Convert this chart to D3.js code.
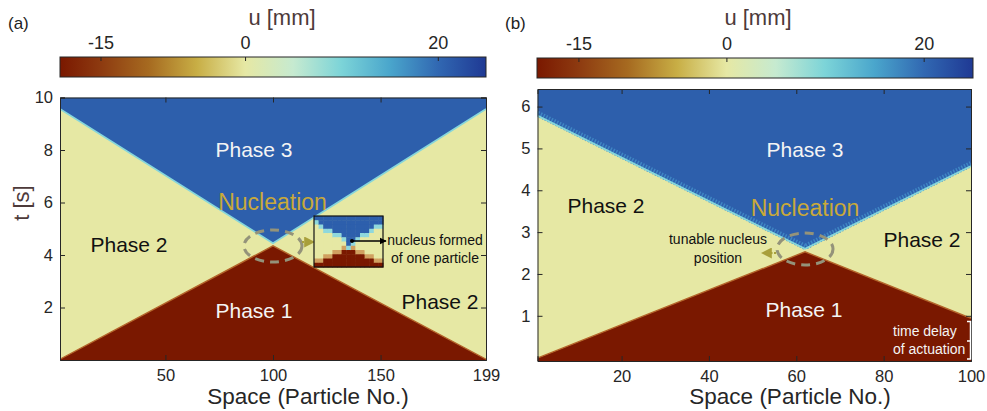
<!DOCTYPE html>
<html><head><meta charset="utf-8">
<script src="https://cdn.jsdelivr.net/npm/d3@7"></script>
<style>body{margin:0;background:#fff}svg{display:block;font-family:"Liberation Sans",Arial,sans-serif}</style>
</head><body><svg id="c" width="987" height="411"></svg>
<script>
// ---------- data ----------
const cbDomain = [-19.2, 25];
const cbTicks = [-15, 0, 20];
const cmapU = [-19.2, -15, -10, -5, 0, 5, 10, 15, 20, 25];
const cmapColors = ["#7a1800","#8d3a10","#a66a20","#c8ae45","#e6e8a4","#c6ead0","#7cd4d8","#4aa6cc","#3168b2","#1f3994"];
const phaseNames = ["Phase 1","Phase 2","Phase 3"];
const phaseU = [-19.2, 0, 21];

const leftX = [1, 100, 199];
const leftBlueT = [9.56, 4.45, 9.56];
const leftRedT = [0.03, 4.35, 0.03];
const leftXTicks = [50, 100, 150, 199];
const leftYTicks = [2, 4, 6, 8, 10];

const rightX = [1, 62, 100];
const rightBlueT = [5.77, 2.6, 4.58];
const rightRedT = [0, 2.53, 0.94];
const rightXTicks = [20, 40, 60, 80, 100];
const rightYTicks = [1, 2, 3, 4, 5, 6];

// inset (zoom on nucleus, left panel): rows of blue from top / red from bottom per column
const insetBlueDepth = [1, 2, 3, 3, 4, 4, 5, 7, 6, 5, 4, 4, 3, 2, 2];
const insetRedHeight = [1, 1, 2, 2, 3, 3, 4, 4, 4, 3, 3, 2, 2, 1, 1];
const insetRows = 12;

// ---------- setup ----------
const svg = d3.select("#c");
const color = d3.scaleLinear().domain(cmapU).range(cmapColors).interpolate(d3.interpolateRgb);
const defs = svg.append("defs");
const font = "'Liberation Sans', Arial, sans-serif";
const axisCol = "#262626";
const plain = d => String(d);

function colorbar(id, x0, x1, y0, y1, labelX) {
  const cb = d3.scaleLinear().domain(cbDomain).range([x0, x1]);
  const g = defs.append("linearGradient").attr("id", id).attr("x1", "0%").attr("x2", "100%");
  cmapU.forEach((u, i) => g.append("stop")
    .attr("offset", ((u - cbDomain[0]) / (cbDomain[1] - cbDomain[0]) * 100) + "%")
    .attr("stop-color", cmapColors[i]));
  svg.append("rect").attr("x", x0).attr("y", y0).attr("width", x1 - x0).attr("height", y1 - y0)
    .attr("fill", `url(#${id})`).attr("stroke", axisCol).attr("stroke-width", 1);
  const ax = svg.append("g").attr("transform", `translate(0,${y0})`)
    .call(d3.axisTop(cb).tickValues(cbTicks).tickFormat(plain).tickSize(-4).tickPadding(8).tickSizeOuter(0));
  ax.select(".domain").remove();
  ax.selectAll("line").attr("stroke", axisCol);
  ax.selectAll("text").attr("font-size", 18).attr("fill", axisCol).attr("font-family", font);
  svg.append("text").attr("x", labelX).attr("y", 25).attr("text-anchor", "middle")
    .attr("font-size", 22).attr("fill", "#4d3a3a").text("u [mm]");
}

function panel(opts) {
  const {id, xd, yd, xr, yr, X, blueT, redT, xTicks, yTicks} = opts;
  const x = d3.scaleLinear().domain(xd).range(xr);
  const y = d3.scaleLinear().domain(yd).range(yr);
  defs.append("clipPath").attr("id", "clip" + id).append("rect")
    .attr("x", xr[0]).attr("y", yr[1]).attr("width", xr[1] - xr[0]).attr("height", yr[0] - yr[1]);
  const g = svg.append("g").attr("clip-path", `url(#clip${id})`);
  g.append("rect").attr("x", xr[0]).attr("y", yr[1]).attr("width", xr[1] - xr[0]).attr("height", yr[0] - yr[1])
    .attr("fill", color(phaseU[1]));
  const pts = (T) => X.map((v, i) => [v, T[i]]);
  const ext = (arr) => [[xd[0], arr[0][1]], ...arr, [xd[1], arr[arr.length - 1][1]]];
  g.append("path").datum(ext(pts(blueT)))
    .attr("d", d3.area().x(d => x(d[0])).y0(y(yd[1])).y1(d => y(d[1])))
    .attr("fill", color(phaseU[2]));
  g.append("path").datum(ext(pts(redT)))
    .attr("d", d3.area().x(d => x(d[0])).y0(y(yd[0])).y1(d => y(d[1])))
    .attr("fill", color(phaseU[0]));
  const line = d3.line().x(d => x(d[0])).y(d => y(d[1]));
  if (opts.stripes) {
    g.append("path").datum(ext(pts(blueT))).attr("d", line).attr("fill", "none")
      .attr("stroke", "#3f86c4").attr("stroke-width", 6).attr("transform", "translate(0,-2)")
      .attr("stroke-dasharray", "1.5,1.5");
  }
  g.append("path").datum(ext(pts(blueT))).attr("d", line).attr("fill", "none")
    .attr("stroke", "#86d6da").attr("stroke-width", 1.8);
  g.append("path").datum(ext(pts(redT))).attr("d", line).attr("fill", "none")
    .attr("stroke", "#b4652a").attr("stroke-width", 1.4);

  const mk = (ax) => ax.tickSizeOuter(0).tickSize(-5);
  const bx = svg.append("g").attr("transform", `translate(0,${yr[0]})`)
    .call(mk(d3.axisBottom(x).tickValues(xTicks)).tickFormat(plain).tickPadding(9));
  const ly = svg.append("g").attr("transform", `translate(${xr[0]},0)`)
    .call(mk(d3.axisLeft(y).tickValues(yTicks)).tickFormat(plain).tickPadding(7));
  const tx = svg.append("g").attr("transform", `translate(0,${yr[1]})`)
    .call(mk(d3.axisTop(x).tickValues(xTicks)).tickFormat(""));
  const ry = svg.append("g").attr("transform", `translate(${xr[1]},0)`)
    .call(mk(d3.axisRight(y).tickValues(yTicks)).tickFormat(""));
  [bx, ly, tx, ry].forEach(a => {
    a.selectAll("line").attr("stroke", axisCol);
    a.select(".domain").attr("stroke", axisCol);
    a.selectAll("text").attr("font-size", 16.5).attr("fill", axisCol).attr("font-family", font);
  });
  return {x, y};
}

function txt(x, y, s, size, fill, anchor = "middle") {
  return svg.append("text").attr("x", x).attr("y", y).attr("text-anchor", anchor)
    .attr("font-size", size).attr("fill", fill).text(s);
}

defs.append("marker").attr("id", "arrOl").attr("viewBox", "0 0 10 10").attr("refX", 8).attr("refY", 5)
  .attr("markerWidth", 5).attr("markerHeight", 5).attr("orient", "auto-start-reverse")
  .append("path").attr("d", "M0,0L10,5L0,10z").attr("fill", "#a89f3a");
defs.append("marker").attr("id", "arrBk").attr("viewBox", "0 0 10 10").attr("refX", 9).attr("refY", 5)
  .attr("markerWidth", 4.5).attr("markerHeight", 4.5).attr("orient", "auto")
  .append("path").attr("d", "M0,0L10,5L0,10z").attr("fill", "#000");

// ---------- panel (a) ----------
colorbar("cbA", 60, 486, 57, 77, 282);
const A = panel({id: "A", xd: [1, 199], yd: [0, 10], xr: [60, 486], yr: [360, 97.5],
  X: leftX, blueT: leftBlueT, redT: leftRedT, xTicks: leftXTicks, yTicks: leftYTicks});
txt(8, 29, "(a)", 17, "#222", "start");
svg.append("text").attr("transform", "translate(29,203) rotate(-90)").attr("text-anchor", "middle")
  .attr("font-size", 22).attr("fill", "#4d3a3a").text("t [s]");
txt(308, 404, "Space (Particle No.)", 22.5, axisCol);
txt(254, 157, phaseNames[2], 21, "#f4f4f4");
txt(129, 252, phaseNames[1], 21, "#111");
txt(254, 318, phaseNames[0], 21, "#f4f4f4");
txt(440, 309, phaseNames[1], 21, "#111");
txt(272.5, 210, "Nucleation", 23, "#c9a93a");
svg.append("ellipse").attr("cx", A.x(100)).attr("cy", 246).attr("rx", 29).attr("ry", 16)
  .attr("fill", "none").attr("stroke", "#94937a").attr("stroke-width", 3).attr("stroke-dasharray", "9,6");
svg.append("line").attr("x1", 302).attr("y1", 242).attr("x2", 313).attr("y2", 242)
  .attr("stroke", "#a89f3a").attr("stroke-width", 2.2).attr("stroke-dasharray", "2,1.5").attr("marker-end", "url(#arrOl)");

// inset
{
  const ix0 = 314, ix1 = 383, iy0 = 216, iy1 = 267;
  const cols = d3.range(insetBlueDepth.length);
  const bx = d3.scaleBand().domain(cols).range([ix0, ix1]);
  const by = d3.scaleBand().domain(d3.range(insetRows)).range([iy0, iy1]);
  const cells = [];
  cols.forEach(c => d3.range(insetRows).forEach(r => {
    let f;
    if (r < insetBlueDepth[c]) f = color(phaseU[2]);
    else if (r === insetBlueDepth[c]) f = "#8fd8dc";
    else if (r >= insetRows - insetRedHeight[c]) f = color(phaseU[0]);
    else if (r === insetRows - insetRedHeight[c] - 1) f = "#d0a060";
    else f = color(phaseU[1]);
    cells.push({c, r, f});
  }));
  svg.append("g").selectAll("rect").data(cells).join("rect")
    .attr("x", d => bx(d.c)).attr("y", d => by(d.r))
    .attr("width", bx.bandwidth() + 0.5).attr("height", by.bandwidth() + 0.5).attr("fill", d => d.f);
  svg.append("rect").attr("x", ix0).attr("y", iy0).attr("width", ix1 - ix0).attr("height", iy1 - iy0)
    .attr("fill", "none").attr("stroke", "#111").attr("stroke-width", 1.2);
  svg.append("line").attr("x1", 352).attr("y1", 241).attr("x2", 386).attr("y2", 241)
    .attr("stroke", "#000").attr("stroke-width", 1.6).attr("marker-end", "url(#arrBk)");
  svg.append("circle").attr("cx", 352).attr("cy", 241).attr("r", 2).attr("fill", "#000");
  txt(435, 245, "nucleus formed", 14, "#111");
  txt(435, 263, "of one particle", 14, "#111");
}

// ---------- panel (b) ----------
colorbar("cbB", 537, 973, 58, 78, 758);
const B = panel({id: "B", xd: [0.75, 100], yd: [-0.08, 6.42], xr: [537.5, 971], yr: [361, 89],
  X: rightX, blueT: rightBlueT, redT: rightRedT, xTicks: rightXTicks, yTicks: rightYTicks, stripes: true});
txt(505, 29, "(b)", 17, "#222", "start");
txt(790, 404, "Space (Particle No.)", 22.5, axisCol);
txt(805, 157, phaseNames[2], 21, "#f4f4f4");
txt(606, 213, phaseNames[1], 21, "#111");
txt(922, 247, phaseNames[1], 21, "#111");
txt(804, 317, phaseNames[0], 21, "#f4f4f4");
txt(805, 216, "Nucleation", 23, "#c9a93a");
svg.append("ellipse").attr("cx", B.x(62)).attr("cy", 249).attr("rx", 28).attr("ry", 16)
  .attr("fill", "none").attr("stroke", "#94937a").attr("stroke-width", 3).attr("stroke-dasharray", "9,6");
svg.append("line").attr("x1", 776).attr("y1", 253).attr("x2", 763).attr("y2", 253)
  .attr("stroke", "#a89f3a").attr("stroke-width", 2.2).attr("stroke-dasharray", "2,1.5").attr("marker-end", "url(#arrOl)");
txt(718, 244, "tunable nucleus", 14, "#111");
txt(718, 263, "position", 14, "#111");
txt(893, 336, "time delay", 14, "#f4f4f4", "start");
txt(893, 354, "of actuation", 14, "#f4f4f4", "start");
svg.append("path").attr("d", "M967,321.5H970.5V359H967M970.5,341H967")
  .attr("fill", "none").attr("stroke", "#fff").attr("stroke-width", 1.5);
</script></body></html>
